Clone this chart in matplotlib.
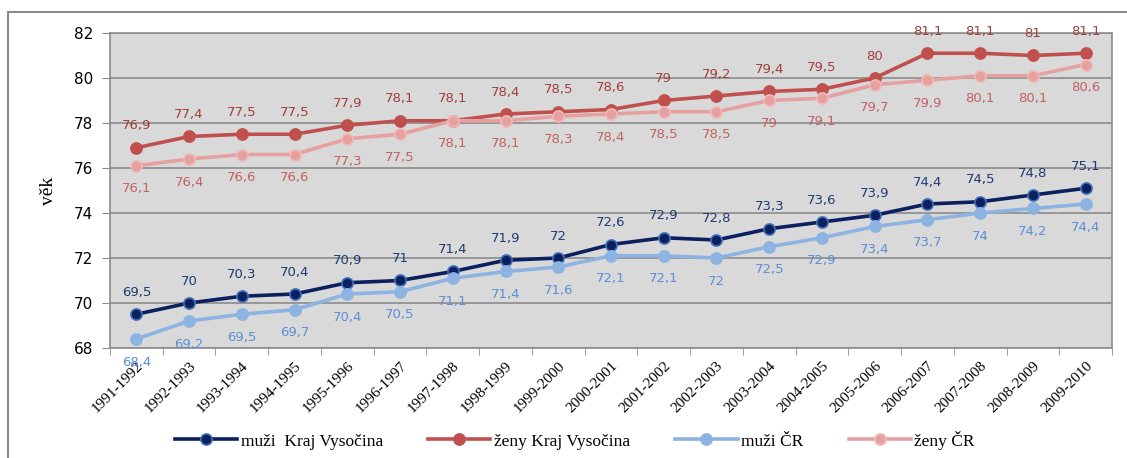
import matplotlib.pyplot as plt
from matplotlib.patches import Rectangle

periods = ['1991-1992', '1992-1993', '1993-1994', '1994-1995', '1995-1996', '1996-1997',
           '1997-1998', '1998-1999', '1999-2000', '2000-2001', '2001-2002', '2002-2003',
           '2003-2004', '2004-2005', '2005-2006', '2006-2007', '2007-2008', '2008-2009',
           '2009-2010']
muzi_kraj = [69.5, 70, 70.3, 70.4, 70.9, 71, 71.4, 71.9, 72, 72.6, 72.9, 72.8, 73.3, 73.6,
             73.9, 74.4, 74.5, 74.8, 75.1]
zeny_kraj = [76.9, 77.4, 77.5, 77.5, 77.9, 78.1, 78.1, 78.4, 78.5, 78.6, 79, 79.2, 79.4, 79.5,
             80, 81.1, 81.1, 81, 81.1]
muzi_cr = [68.4, 69.2, 69.5, 69.7, 70.4, 70.5, 71.1, 71.4, 71.6, 72.1, 72.1, 72, 72.5, 72.9,
           73.4, 73.7, 74, 74.2, 74.4]
zeny_cr = [76.1, 76.4, 76.6, 76.6, 77.3, 77.5, 78.1, 78.1, 78.3, 78.4, 78.5, 78.5, 79, 79.1,
           79.7, 79.9, 80.1, 80.1, 80.6]

fig = plt.figure(figsize=(11.27, 4.58), dpi=100)
ax = fig.add_axes([110 / 1127, 1 - 348 / 458, 1002 / 1127, 315 / 458])

# outer frame of the chart object
fig.patches.append(Rectangle((8 / 1127, -0.05), 1.1, 1 - 12 / 458 + 0.05,
                             transform=fig.transFigure, fill=False,
                             edgecolor='#8c8c8c', linewidth=1.5))

ax.set_facecolor('#d9d9d9')
x = list(range(len(periods)))

series = [
    # values, line colour, marker edge, label colour, label above?, legend text
    (muzi_kraj, '#0c1f5e', '#3f6fb5', '#1f3b73', True, 'muži  Kraj Vysočina'),
    (zeny_kraj, '#c0504d', '#c0504d', '#a0403d', True, 'ženy Kraj Vysočina'),
    (muzi_cr, '#8db3e2', '#8db3e2', '#5b8fd6', False, 'muži ČR'),
    (zeny_cr, '#e6a0a0', '#f0b8b8', '#c26262', False, 'ženy ČR'),
]

for vals, col, edge, lcol, above, name in series:
    ax.plot(x, vals, color=col, linewidth=2.6, marker='o', markersize=8,
            markerfacecolor=col, markeredgecolor=edge, markeredgewidth=1.2,
            label=name, zorder=3, clip_on=False)
    for xi, v in zip(x, vals):
        txt = ('%g' % v).replace('.', ',')
        ax.annotate(txt, (xi, v), xytext=(0, 11 if above else -12), textcoords='offset points',
                    ha='center', va='bottom' if above else 'top', fontsize=9.5,
                    color=lcol, zorder=4)

ax.set_xlim(-0.5, len(periods) - 0.5)
ax.set_ylim(68, 82)
ax.set_yticks(range(68, 83, 2))
ax.yaxis.grid(True, color='#8c8c8c', linewidth=1.2)
ax.set_axisbelow(True)

ax.set_xticks([i + 0.5 for i in range(-1, len(periods))], minor=True)
ax.set_xticks(x)
ax.set_xticklabels(periods, rotation=45, ha='right', rotation_mode='anchor',
                   family='Liberation Serif', fontsize=11)
ax.tick_params(axis='x', which='major', length=0, pad=8)
ax.tick_params(axis='x', which='minor', length=5, color='#8c8c8c')
ax.tick_params(axis='y', length=6, color='#8c8c8c', labelsize=11, pad=6)

for s in ax.spines.values():
    s.set_color('#8c8c8c')
    s.set_linewidth(1.2)

ax.set_ylabel('věk', family='Liberation Serif', fontsize=14, labelpad=12)

fig.legend(loc='center', bbox_to_anchor=(0.51, 1 - 440 / 458), ncol=4, frameon=False,
           prop={'family': 'Liberation Serif', 'size': 12.5}, handlelength=3.6,
           handletextpad=0.2, columnspacing=2.6)

fig.savefig('out.png', dpi=100, facecolor='white')
